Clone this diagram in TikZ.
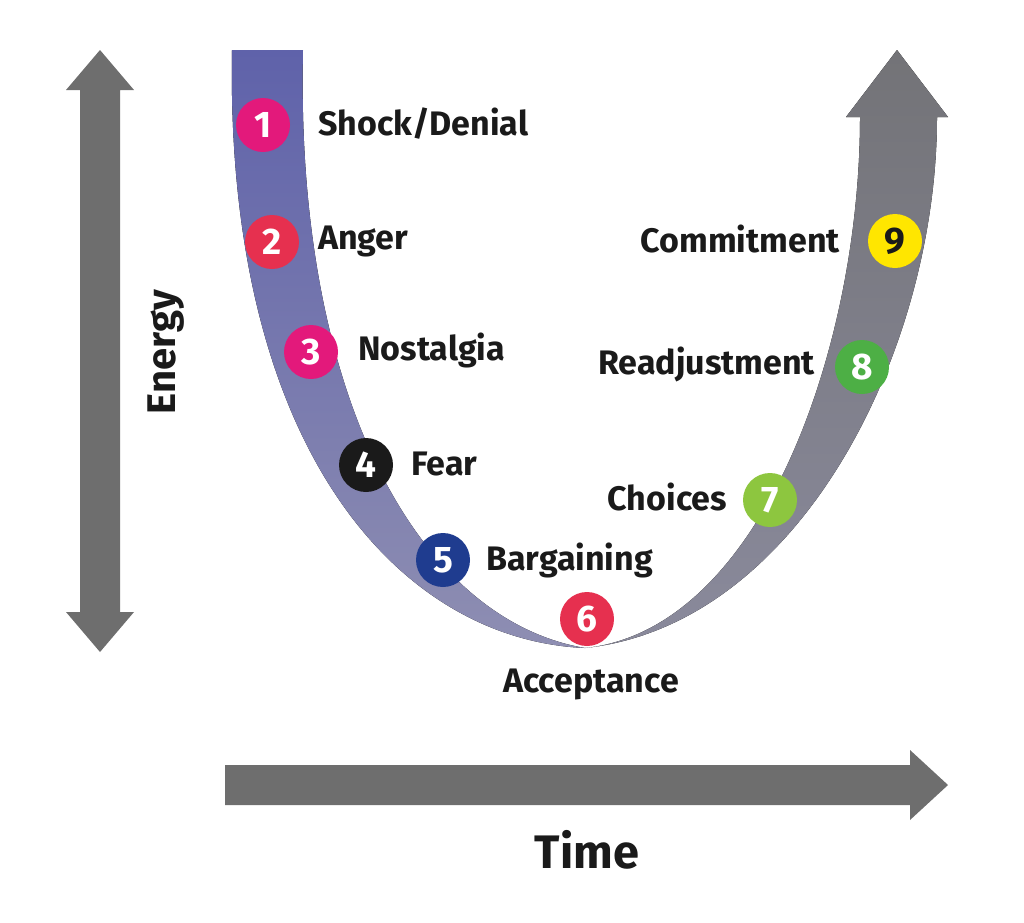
\documentclass[tikz,border=0pt]{standalone}
\usepackage{fontspec}
\setmainfont{Fira Sans}
\definecolor{arrgray}{HTML}{6E6E6E}
\definecolor{bandA}{HTML}{5F62AA}
\definecolor{bandB}{HTML}{8E8EB2}
\definecolor{bandC}{HTML}{737377}
\definecolor{bandD}{HTML}{8A8A9C}
\definecolor{cMag}{HTML}{E3197B}
\definecolor{cRed}{HTML}{E6304F}
\definecolor{cBlack}{HTML}{1A1A1A}
\definecolor{cNavy}{HTML}{1F3C8F}
\definecolor{cLGreen}{HTML}{8DC63F}
\definecolor{cGreen}{HTML}{4DAF45}
\definecolor{cYellow}{HTML}{FFE600}
\begin{document}
\begin{tikzpicture}[x=1pt,y=-1pt,
  num/.style={circle,minimum size=54pt,inner sep=0pt,text=white,font=\bfseries\fontsize{37}{42}\selectfont},
  lab/.style={inner sep=0pt,text=cBlack,font=\bfseries\fontsize{34}{40}\selectfont}]
\useasboundingbox (0,0) rectangle (1024,922);
% Energy double arrow
\fill[arrgray] (100,50) -- (134,90) -- (120,90) -- (120,612) -- (134,612) -- (100,652) -- (66,612) -- (80,612) -- (80,90) -- (66,90) -- cycle;
\node[lab,rotate=90,font=\bfseries\fontsize{40}{46}\selectfont] (energy) at (166,352) {Energy};
% Time arrow
\fill[arrgray] (225,765) -- (910,765) -- (910,750) -- (948,785) -- (910,820) -- (910,805) -- (225,805) -- cycle;
\node[lab,font=\bfseries\fontsize{47}{52}\selectfont] (time) at (587,850) {Time};
% U band left
\fill[top color=bandA,bottom color=bandB] (232,50) .. controls (225,450) and (400,640) .. (585,648) .. controls (420,620) and (295,400) .. (303,50) -- cycle;
% U band right (arrow)
\fill[top color=bandC,bottom color=bandD] (585,648) .. controls (800,625) and (937,350) .. (937,117) -- (948,117) -- (897,50) -- (846,117) -- (860,117) .. controls (860,350) and (760,630) .. (585,648) -- cycle;
% circles
\node[num,fill=cMag] (n1) at (263,125) {1};
\node[num,fill=cRed] (n2) at (272,242) {2};
\node[num,fill=cMag] (n3) at (311,352) {3};
\node[num,fill=cBlack] (n4) at (366,465) {4};
\node[num,fill=cNavy] (n5) at (443,560) {5};
\node[num,fill=cRed] (n6) at (587,619) {6};
\node[num,fill=cLGreen] (n7) at (770,500) {7};
\node[num,fill=cGreen] (n8) at (862,367) {8};
\node[num,fill=cYellow,text=cBlack] (n9) at (895,241) {9};
% labels
\node[lab,anchor=west] (l1) at (318,124) {Shock/Denial};
\node[lab,anchor=west] (l2) at (318,241) {Anger};
\node[lab,anchor=west] (l3) at (358,350) {Nostalgia};
\node[lab,anchor=west] (l4) at (411,464) {Fear};
\node[lab,anchor=west] (l5) at (486,560) {Bargaining};
\node[lab] (l6) at (591,684) {Acceptance};
\node[lab,anchor=east] (l7) at (727,497) {Choices};
\node[lab,anchor=east] (l8) at (815,364) {Readjustment};
\node[lab,anchor=east] (l9) at (840,239) {Commitment};
\end{tikzpicture}
\end{document}
